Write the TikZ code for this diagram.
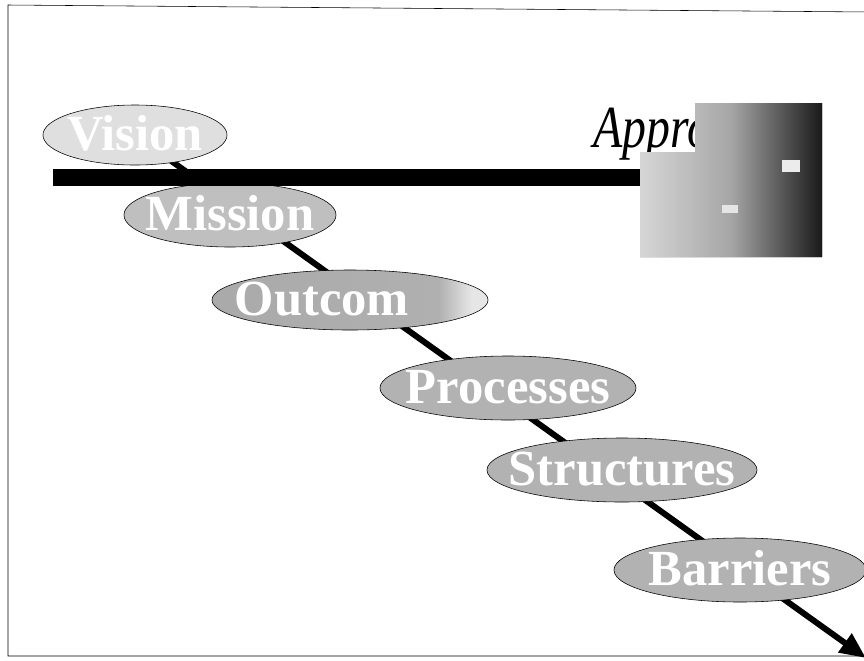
\documentclass[tikz,border=0pt]{standalone}
\usepackage{fontspec}
\setmainfont{Liberation Serif}[ItalicFont={Liberation Serif Italic},BoldFont={Liberation Serif Bold}]
\usetikzlibrary{shapes.geometric}
\usetikzlibrary{arrows.meta}
\usetikzlibrary{backgrounds}
\pgfdeclarehorizontalshading{photoshade}{100bp}{color(0bp)=(white); color(27bp)=(gray!35); color(50bp)=(gray!70); color(75bp)=(black!90); color(100bp)=(black)}
\pgfdeclarehorizontalshading{outcomeshade}{100bp}{color(0bp)=(gray!70); color(66bp)=(gray!62); color(72bp)=(gray!20); color(100bp)=(gray!8)}
\newcommand{\stagetext}[1]{\makebox[0pt]{\raisebox{-0.3em}[0pt][0pt]{#1}}}

\begin{document}
\begin{tikzpicture}[x=0.025cm,y=-0.025cm,
  stage/.style={ellipse,draw=black,thin,inner sep=0pt,text=white,
    font=\fontsize{36}{40}\selectfont\bfseries}]
\useasboundingbox (0,0) rectangle (864,660);
\draw[thin] (870,12) -- (8,5) -- (8,656) -- (870,656); % frame
\node[stage,fill=gray!25,minimum width=4.6cm,minimum height=1.5cm] (vision) at (135,135) {\stagetext{Vision}};
\node[stage,fill=gray!50,minimum width=5.3cm,minimum height=1.6cm] (mission) at (230,215) {\stagetext{Mission}};
\node[stage,shading=outcomeshade,minimum width=6.9cm,minimum height=1.5cm] (outcome) at (350,300) {\stagetext{Outcom\hspace*{40pt}}};
\node[stage,fill=gray!60,minimum width=6.4cm,minimum height=1.6cm] (processes) at (508,388) {\stagetext{Processes}};
\node[stage,fill=gray!60,minimum width=6.75cm,minimum height=1.6cm] (structures) at (622,470) {\stagetext{Structures}};
\node[stage,fill=gray!60,minimum width=6.3cm,minimum height=1.6cm] (barriers) at (740,570) {\stagetext{Barriers}};
\coordinate (tip) at (866,658);
\begin{pgfonlayer}{background}
\draw[line width=0.15cm,-{Triangle[length=0.65cm,width=0.55cm]}] (vision.center) -- (tip);
\end{pgfonlayer}
\fill (53,169) rectangle (725,186); % bar
\node[font=\fontsize{34}{38}\selectfont\itshape,anchor=base west,inner sep=0pt] (approach) at (593,147) {\scalebox{1}[1.25]{Approach}};
\fill[shading=photoshade] (695,103) -- (822,103) -- (822,257) -- (640,257) -- (640,152) -- (695,152) -- cycle; % photo
\fill[gray!15] (782,160) rectangle (800,172);
\fill[gray!20] (722,205) rectangle (738,213);
\end{tikzpicture}
\end{document}
